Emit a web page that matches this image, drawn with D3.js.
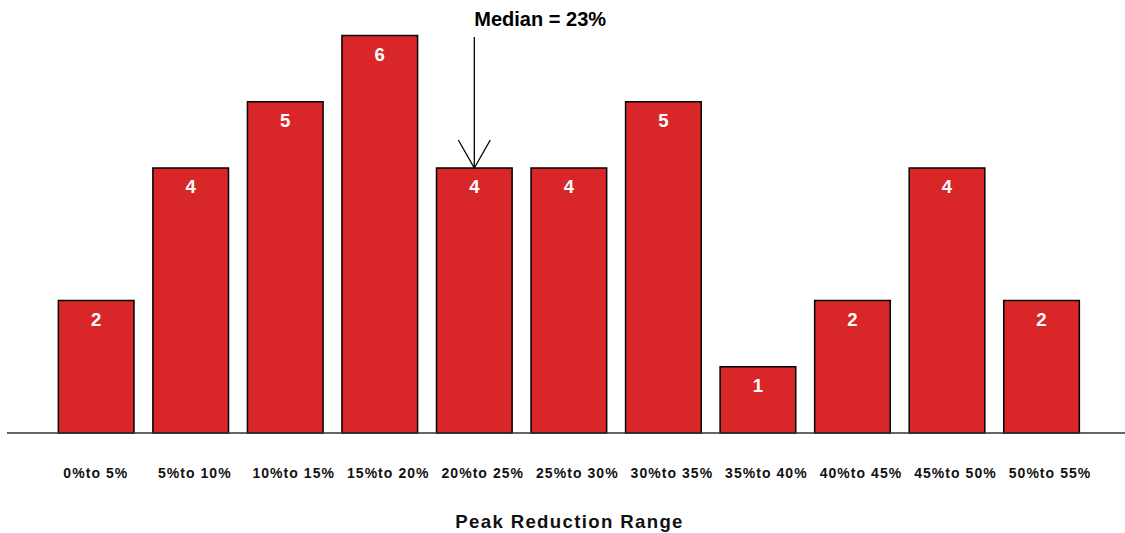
<!DOCTYPE html>
<html><head><meta charset="utf-8">
<script src="https://cdn.jsdelivr.net/npm/d3@7"></script>
<style>body{margin:0;background:#fff}svg{display:block}text{font-family:"Liberation Sans",Arial,sans-serif;font-weight:bold}</style>
</head><body><svg id="c" width="1125" height="533"></svg>
<script>
const categories = ["0% to 5%","5% to 10%","10% to 15%","15% to 20%","20% to 25%","25% to 30%","30% to 35%","35% to 40%","40% to 45%","45% to 50%","50% to 55%"];
const counts = [2,4,5,6,4,4,5,1,2,4,2];
const medianLabel = "Median = 23%";
const medianCategory = "20% to 25%";
const xTitle = "Peak Reduction Range";

const svg = d3.select("#c");
const x = d3.scaleBand().domain(categories).range([48.9, 1088.8]).paddingInner(0.2).paddingOuter(0.1);
const y = d3.scaleLinear().domain([0, 6]).range([433, 35.5]);

svg.selectAll("rect.bar").data(counts).join("rect").attr("class","bar")
  .attr("x",(d,i)=>x(categories[i])).attr("width",x.bandwidth())
  .attr("y",d=>y(d)).attr("height",d=>y(0)-y(d))
  .attr("fill","#d92629").attr("stroke","#000").attr("stroke-width",1.5);

svg.append("line").attr("x1",7).attr("x2",1125).attr("y1",y(0)).attr("y2",y(0)).attr("stroke","#333").attr("stroke-width",1.5);

svg.selectAll("text.val").data(counts).join("text").attr("class","val")
  .attr("x",(d,i)=>x(categories[i])+x.bandwidth()/2).attr("y",d=>y(d)+25.3)
  .attr("text-anchor","middle").attr("fill","#fff").attr("font-size",18.6).text(d=>d);

svg.selectAll("text.cat").data(categories).join("text").attr("class","cat")
  .attr("x",d=>x(d)+5).attr("y",478)
  .attr("fill","#111").attr("font-size",14).attr("letter-spacing",1.05)
  .text(d=>d.replace("% to","%to"));

svg.append("text").attr("x",x(categories[5])+x.bandwidth()/2+0.7).attr("y",528).attr("text-anchor","middle")
  .attr("font-size",18.6).attr("letter-spacing",1.35).attr("fill","#111").text(xTitle);

const mi = categories.indexOf(medianCategory);
const mx = x(medianCategory)+x.bandwidth()/2;
const mv = counts[mi];
svg.append("line").attr("x1",mx).attr("x2",mx).attr("y1",37).attr("y2",y(mv)).attr("stroke","#000").attr("stroke-width",1.3);
svg.append("path").attr("d",`M${mx-16},${y(mv)-28}L${mx},${y(mv)}L${mx+16},${y(mv)-28}`).attr("fill","none").attr("stroke","#000").attr("stroke-width",1.3);
svg.append("text").attr("x",mx).attr("y",26).attr("font-size",20).attr("fill","#000").text(medianLabel);
</script></body></html>
